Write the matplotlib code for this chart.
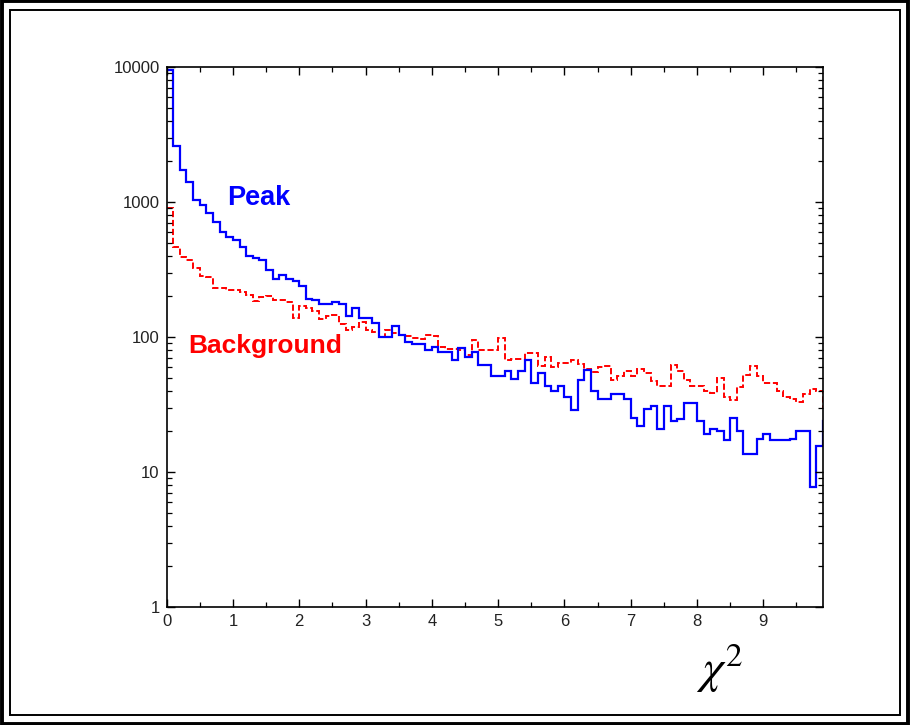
import numpy as np
import matplotlib
matplotlib.use('Agg')
import matplotlib.pyplot as plt
from matplotlib.patches import Rectangle
from matplotlib.ticker import LogLocator, FixedLocator, NullFormatter

plt.rcParams['font.family'] = ['Liberation Sans', 'DejaVu Sans']
plt.rcParams['mathtext.fontset'] = 'stix'

# histogram of chi^2, bins of width 0.1 starting at 0
bin_width = 0.1

peak_counts = [
    9500, 2610, 1726, 1415, 1035, 950, 825, 715, 600, 555,
    523, 467, 400, 383, 370, 313, 267, 290, 267, 258,
    240, 190, 188, 175, 175, 181, 175, 142, 164, 138,
    138, 128, 100, 100, 120, 103, 92, 89, 88, 80,
    85, 78, 78, 67, 83, 71, 78, 62, 62, 51,
    51, 56, 49, 56, 67, 46, 54, 43, 40, 43,
    36, 29, 48, 57, 39.5, 34.5, 34.5, 38, 38, 34.5,
    25, 22, 29.5, 31, 21, 31, 24, 24.5, 32.5, 32.5,
    24, 19, 21, 20, 17.3, 25, 20, 13.5, 13.5, 17.7,
    19.1, 17.3, 17.3, 17.3, 17.7, 20, 20, 7.7, 15.5, 23.7,
]

background_counts = [
    898, 467, 390, 370, 323, 283, 280, 230, 230, 224,
    224, 217, 204, 184, 197, 200, 189, 188, 183, 139,
    169, 164, 156, 136, 142, 145, 125, 113, 119, 130,
    112, 109, 100, 112, 107, 103, 102, 98, 96, 103,
    102, 85, 81, 81, 80, 73, 95, 80, 80, 80,
    98, 67, 69, 69, 76, 76, 61, 71, 60, 64,
    64, 67, 63, 58, 55, 60, 61, 48, 51, 56,
    51, 58, 54, 47, 43.5, 43, 62, 56, 48, 43,
    43, 40, 38.5, 49.5, 36, 34, 42.5, 52, 61, 51,
    45.5, 45.5, 40, 36, 35, 33, 38, 41, 40, 30,
]

y_ticks = [1, 10, 100, 1000, 10000]
y_tick_labels = ['1', '10', '100', '1000', '10000']
x_ticks = list(range(0, 10))

edges = np.arange(len(peak_counts) + 1) * bin_width

fig = plt.figure(figsize=(9.1, 7.25), dpi=100)

# double frame around the whole picture
fig.patches.append(Rectangle((0.0017, 0.002), 0.9966, 0.996, transform=fig.transFigure,
                             fill=False, edgecolor='black', linewidth=2.8))
fig.patches.append(Rectangle((10 / 910, 10 / 725), 1 - 20 / 910, 1 - 20 / 725,
                             transform=fig.transFigure, fill=False,
                             edgecolor='black', linewidth=1.4))

ax = fig.add_axes([166.6 / 910, 1 - 607 / 725, (823 - 166.6) / 910, (607 - 67) / 725])

ax.stairs(background_counts, edges, baseline=None, color='#ff0000',
          linewidth=1.4, linestyle=(0, (3.2, 1.4)))
ax.stairs(peak_counts, edges, baseline=None, color='#0000ff', linewidth=1.6)

ax.set_yscale('log')
ax.set_ylim(1, 10000)
ax.set_xlim(0, 9.9)

ax.yaxis.set_major_locator(FixedLocator(y_ticks))
ax.set_yticklabels(y_tick_labels)
ax.yaxis.set_minor_locator(LogLocator(base=10, subs=np.arange(2, 10)))
ax.yaxis.set_minor_formatter(NullFormatter())
ax.set_xticks(x_ticks)
ax.set_xticks(np.arange(0.5, 10, 1.0), minor=True)

ax.tick_params(which='both', direction='in', top=True, right=True,
               labelsize=12, colors='black', labelcolor='#222222')
ax.tick_params(which='major', length=6, width=1.0, pad=5)
ax.tick_params(which='minor', length=3.5, width=0.9)
for s in ax.spines.values():
    s.set_linewidth(1.2)

ax.text(0.0916, 0.744, 'Peak', transform=ax.transAxes, color='#0000ff',
        fontsize=19.5, fontweight='bold', va='baseline', ha='left')
ax.text(0.033, 0.470, 'Background', transform=ax.transAxes, color='#ff0000',
        fontsize=19, fontweight='bold', va='baseline', ha='left')

fig.text(720 / 910, 1 - 668 / 725, r'$\chi^2$', fontsize=34, ha='center', va='center')

fig.savefig('out.png', dpi=100)
